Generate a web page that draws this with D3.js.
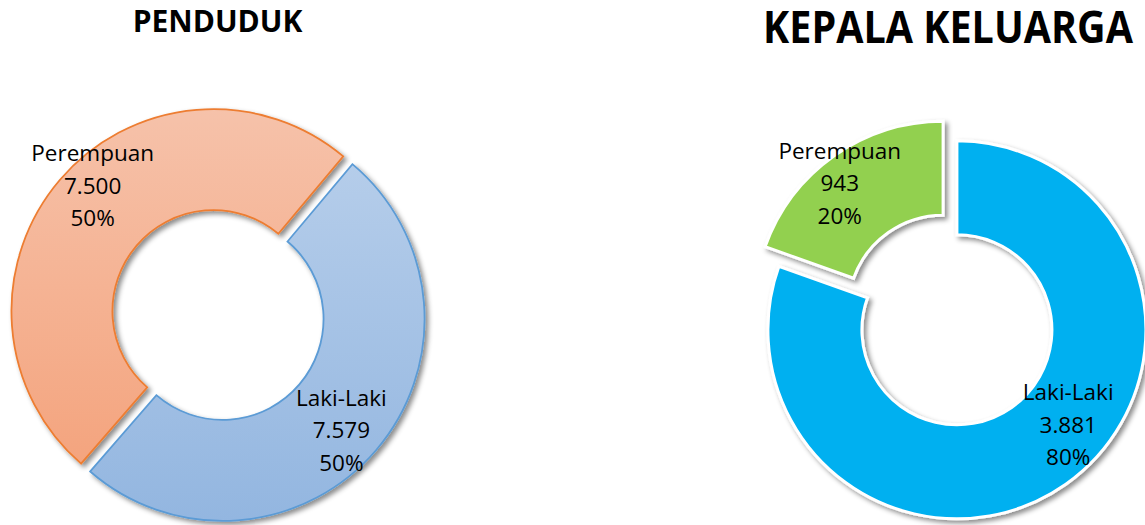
<!DOCTYPE html>
<html>
<head>
<meta charset="utf-8">
<script src="https://cdn.jsdelivr.net/npm/d3@7"></script>
<style>
  html,body{margin:0;padding:0;background:#fff;}
  svg{display:block;font-family:"Open Sans",sans-serif;}
</style>
</head>
<body>
<svg id="chart" width="1145" height="525"></svg>
<script>
// data
var categories = ["Laki-Laki", "Perempuan"];
var pendudukValues = [7579, 7500];
var pendudukPct = ["50%", "50%"];
var kkValues = [3881, 943];
var kkPct = ["80%", "20%"];
var titles = ["PENDUDUK", "KEPALA KELUARGA"];

var svg = d3.select("#chart");
var defs = svg.append("defs");

var shadow = defs.append("filter").attr("id", "shadow")
  .attr("x", "-20%").attr("y", "-20%").attr("width", "140%").attr("height", "140%");
shadow.append("feDropShadow").attr("dx", 3).attr("dy", 3).attr("stdDeviation", 2.5)
  .attr("flood-color", "#000").attr("flood-opacity", 0.45);

function grad(id, top, bottom) {
  var g = defs.append("linearGradient").attr("id", id)
    .attr("x1", 0).attr("y1", 0).attr("x2", 0).attr("y2", 1);
  g.append("stop").attr("offset", "0%").attr("stop-color", top);
  g.append("stop").attr("offset", "100%").attr("stop-color", bottom);
}
grad("gBlue", "#b5cdea", "#93b6e0");
grad("gOrange", "#f6c2aa", "#f4a47e");

var fmt = function(v) { return d3.format(",")(v).replace(/,/g, "."); };

var charts = [
  {
    title: titles[0], values: pendudukValues, pct: pendudukPct,
    cx: 218, cy: 315, R: 202, r: 101, explode: 6, start: 40,
    fills: ["url(#gBlue)", "url(#gOrange)"], strokes: ["#5b9bd5", "#ed7d31"], strokeW: 1.8,
    labelR: 168, nudge: [[-9, 2], [7, -17]],
    titleX: 217.5, titleY: 32, titleSize: 30, titleLen: 179
  },
  {
    title: titles[1], values: kkValues, pct: kkPct,
    cx: 950, cy: 320, R: 189, r: 95, explode: 12, start: 0,
    fills: ["#00b0f0", "#92d050"], strokes: ["#fff", "#fff"], strokeW: 3,
    labelR: 155, nudge: [[22, -32], [-14, -1]],
    titleX: 948, titleY: 43, titleSize: 44, titleLen: 370
  }
];

charts.forEach(function(c) {
  var rad = c.start * Math.PI / 180;
  var pie = d3.pie().sort(null).startAngle(rad).endAngle(rad + 2 * Math.PI);
  var arcs = pie(c.values);
  var arc = d3.arc().innerRadius(c.r).outerRadius(c.R);
  var g = svg.append("g").attr("transform", "translate(" + c.cx + "," + c.cy + ")");

  arcs.forEach(function(a, i) {
    var mid = (a.startAngle + a.endAngle) / 2;
    var ox = Math.sin(mid) * c.explode, oy = -Math.cos(mid) * c.explode;
    var sg = g.append("g").attr("transform", "translate(" + ox + "," + oy + ")");
    sg.append("path").attr("d", arc(a))
      .attr("fill", c.fills[i]).attr("stroke", c.strokes[i])
      .attr("stroke-width", c.strokeW).attr("stroke-linejoin", "miter")
      .attr("filter", "url(#shadow)");
  });

  arcs.forEach(function(a, i) {
    var mid = (a.startAngle + a.endAngle) / 2;
    var ox = Math.sin(mid) * c.explode, oy = -Math.cos(mid) * c.explode;
    var lx = ox + Math.sin(mid) * c.labelR + c.nudge[i][0];
    var ly = oy - Math.cos(mid) * c.labelR + c.nudge[i][1];
    var lines = [categories[i], fmt(c.values[i]), c.pct[i]];
    var t = g.append("text").attr("text-anchor", "middle")
      .attr("font-size", "22.5px").attr("fill", "#000");
    lines.forEach(function(s, k) {
      t.append("tspan").attr("x", lx).attr("y", ly + (k - 1) * 32.5)
        .attr("dominant-baseline", "central").text(s);
    });
  });

  // title squeezed horizontally to the reference width (Calibri is narrower)
  var tt = svg.append("text").attr("text-anchor", "middle").attr("font-weight", "bold")
    .attr("font-size", c.titleSize + "px").attr("fill", "#000").text(c.title);
  var natural = tt.node().getComputedTextLength() || c.titleLen;
  var sx = Math.min(1, c.titleLen / natural);
  tt.attr("transform", "translate(" + c.titleX + "," + c.titleY + ") scale(" + sx + ",1)");
});
</script>
</body>
</html>
